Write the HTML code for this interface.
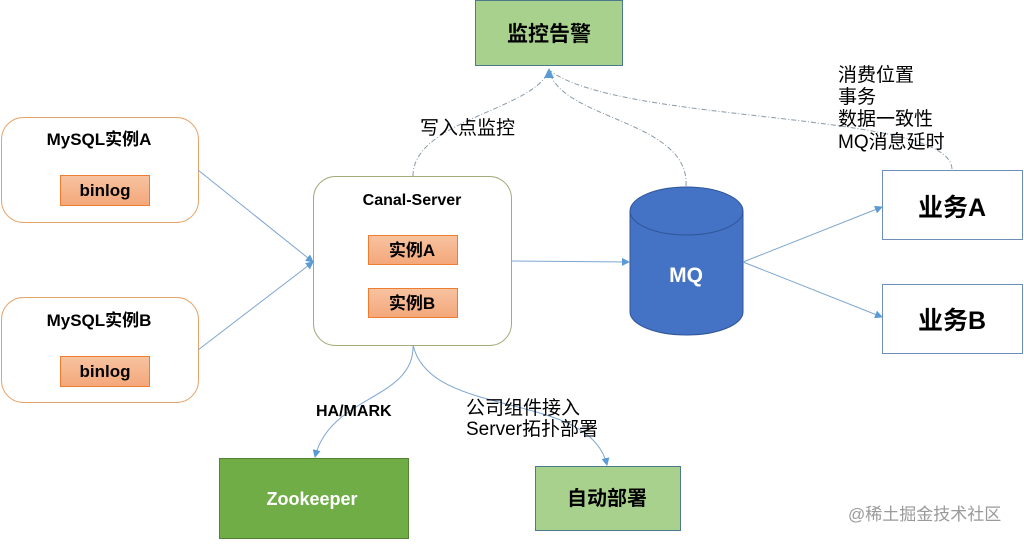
<!DOCTYPE html>
<html><head><meta charset="utf-8"><style>
body{margin:0;background:#fff;}
svg text{font-family:"Liberation Sans","Noto Sans CJK SC",sans-serif;}
</style></head><body>
<svg width="1024" height="539" viewBox="0 0 1024 539" xmlns="http://www.w3.org/2000/svg">
<defs>
<marker id="a" markerWidth="8" markerHeight="8" refX="7" refY="4" orient="auto" markerUnits="userSpaceOnUse"><path d="M0,0 L8,4 L0,8 z" fill="#5b9bd5"/></marker>
<linearGradient id="g" x1="0" y1="0" x2="0" y2="1"><stop offset="0" stop-color="#f7c3a0"/><stop offset="1" stop-color="#f4a77a"/></linearGradient>
</defs>
<rect x="475.5" y="0.5" width="147" height="65" fill="#a9d18e" stroke="#4a7a8c"/>
<text x="549" y="41" font-size="21" font-weight="bold" text-anchor="middle">监控告警</text>
<rect x="1.5" y="117.5" width="197" height="105" rx="22" fill="#fff" stroke="#e5a46a"/>
<text x="99" y="145" font-size="17" font-weight="bold" text-anchor="middle">MySQL实例A</text>
<rect x="60.5" y="175.5" width="89" height="30" fill="url(#g)" stroke="#ed7d31"/>
<text x="105" y="196" font-size="17" font-weight="bold" text-anchor="middle">binlog</text>
<rect x="1.5" y="297.5" width="197" height="105" rx="22" fill="#fff" stroke="#e5a46a"/>
<text x="99" y="326" font-size="17" font-weight="bold" text-anchor="middle">MySQL实例B</text>
<rect x="60.5" y="356.5" width="89" height="30" fill="url(#g)" stroke="#ed7d31"/>
<text x="105" y="377" font-size="17" font-weight="bold" text-anchor="middle">binlog</text>
<rect x="313.5" y="176.5" width="198" height="169" rx="22" fill="#fff" stroke="#a3ab7a"/>
<text x="412" y="205" font-size="16" font-weight="bold" text-anchor="middle">Canal-Server</text>
<rect x="368.5" y="235.5" width="89" height="29" fill="url(#g)" stroke="#ed7d31"/>
<text x="412" y="256" font-size="17" font-weight="bold" text-anchor="middle">实例A</text>
<rect x="368.5" y="288.5" width="89" height="29" fill="url(#g)" stroke="#ed7d31"/>
<text x="412" y="309" font-size="17" font-weight="bold" text-anchor="middle">实例B</text>
<path d="M630,211 L630,312 A56.5,23 0 0 0 743,312 L743,211 Z" fill="#4472c4" stroke="#2f5597"/>
<ellipse cx="686.5" cy="211" rx="56.5" ry="24" fill="#4472c4" stroke="#2f5597"/>
<text x="686" y="282" font-size="21" font-weight="bold" fill="#fff" text-anchor="middle">MQ</text>
<rect x="882.5" y="170.5" width="140" height="69" fill="#fff" stroke="#6d8eb6"/>
<text x="952" y="216" font-size="25" font-weight="bold" text-anchor="middle">业务A</text>
<rect x="882.5" y="284.5" width="140" height="69" fill="#fff" stroke="#6d8eb6"/>
<text x="952" y="329" font-size="25" font-weight="bold" text-anchor="middle">业务B</text>
<rect x="219.5" y="458.5" width="189" height="80" fill="#70ad47" stroke="#548235"/>
<text x="312" y="505" font-size="18" font-weight="bold" fill="#fff" text-anchor="middle">Zookeeper</text>
<rect x="535.5" y="466.5" width="145" height="64" fill="#a9d18e" stroke="#4a7a8c"/>
<text x="607" y="505" font-size="20" font-weight="bold" text-anchor="middle">自动部署</text>
<g stroke="#7ea6cf" stroke-width="1" fill="none" marker-end="url(#a)">
<line x1="198" y1="170" x2="313" y2="262"/>
<line x1="198" y1="350" x2="313" y2="262"/>
<line x1="511" y1="261" x2="629" y2="262"/>
<line x1="743" y1="262" x2="882" y2="207"/>
<line x1="743" y1="262" x2="882" y2="317"/>
<path d="M413,345 C415,400 330,395 315,457"/>
<path d="M413,345 C430,420 590,390 607,465"/>
</g>
<g stroke="#8a9aa8" stroke-width="1" fill="none" stroke-dasharray="5,2,1,2">
<path d="M413,176 C413,120 535,110 549,70"/>
<path d="M686,186 C690,120 560,120 549,70"/>
<path d="M952,169 C950,110 620,125 549,70"/>
</g>
<path d="M544,78 L549,68 L554,78 Z" fill="#5b9bd5"/>
<g font-size="19">
<text x="420" y="134">写入点监控</text>
<text x="838" y="81">消费位置</text>
<text x="838" y="103">事务</text>
<text x="838" y="125">数据一致性</text>
<text x="838" y="148">MQ消息延时</text>
<text x="466" y="414">公司组件接入</text>
<text x="466" y="435">Server拓扑部署</text>
</g>
<text x="316" y="416" font-size="16" font-weight="bold">HA/MARK</text>
<text x="848" y="520" font-size="17" fill="#9a9a9a">@稀土掘金技术社区</text>
</svg>
</body></html>
